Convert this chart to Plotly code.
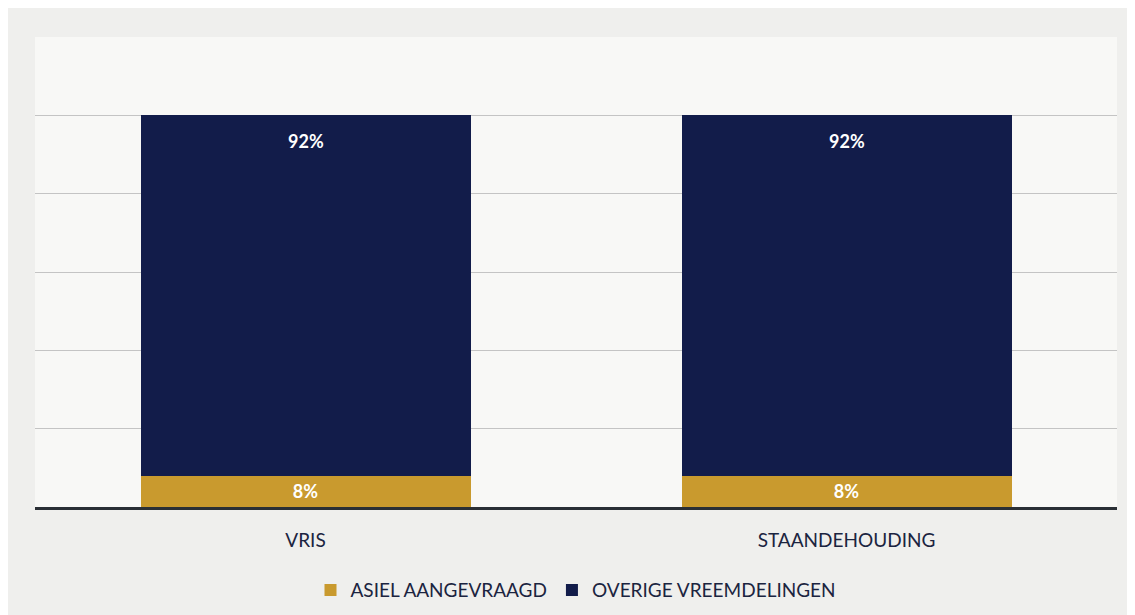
import plotly.graph_objects as go

categories = ["VRIS", "STAANDEHOUDING"]
asiel = [8, 8]
overige = [92, 92]
series_names = ["ASIEL AANGEVRAAGD", "OVERIGE VREEMDELINGEN"]

gold = "#c99a2e"
navy = "#121c4a"
font_family = "Lato, 'Open Sans', sans-serif"
label_font = dict(color="white", size=18, family=font_family, weight="bold")

fig = go.Figure()
fig.add_trace(go.Bar(
    x=categories, y=asiel, name=series_names[0], marker_color=gold,
    marker_line_width=0,
    text=[f"{v}%" for v in asiel], textposition="inside", insidetextanchor="middle",
    textfont=label_font, textangle=0,
))
fig.add_trace(go.Bar(
    x=categories, y=overige, name=series_names[1], marker_color=navy,
    marker_line_width=0, textposition="none",
))
for c, a, o in zip(categories, asiel, overige):
    fig.add_annotation(x=c, y=a + o, text=f"{o}%", showarrow=False,
                       yanchor="middle", yshift=-26, font=label_font)

fig.update_layout(
    barmode="stack",
    bargap=0.39,
    width=1127, height=607,
    margin=dict(l=27, r=18, t=29, b=108, autoexpand=False),
    paper_bgcolor="#efefed",
    plot_bgcolor="#f8f8f6",
    font=dict(family=font_family, color="#1b2440", size=19),
    showlegend=True,
    legend=dict(orientation="h", x=0.5, xanchor="center", yref="container",
                y=0.041, yanchor="middle",
                font=dict(size=19, color="#1b2440"), traceorder="normal",
                itemwidth=30),
    uniformtext=dict(minsize=10, mode="show"),
)
fig.update_yaxes(range=[0, 120], dtick=20, showticklabels=False, showgrid=True,
                 gridcolor="#c4c4c4", gridwidth=1, zeroline=False, showline=False)
fig.update_xaxes(showline=True, linecolor="#2a2f35", linewidth=3, ticks="",
                 ticklabelstandoff=14,
                 tickfont=dict(size=19, color="#1b2440"), showgrid=False)

fig.write_html("out.html")
